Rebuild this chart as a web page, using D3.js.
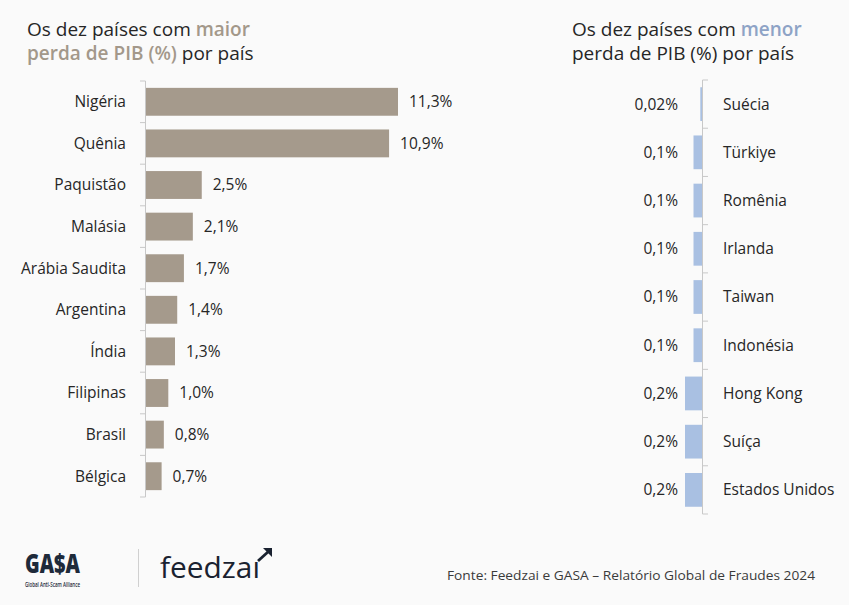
<!DOCTYPE html>
<html><head><meta charset="utf-8">
<script src="https://cdn.jsdelivr.net/npm/d3@7"></script>
<style>
html,body{margin:0;padding:0;background:#fafafa;}
svg{display:block;font-family:"Open Sans", Roboto, sans-serif;}
</style></head>
<body>
<svg id="c" width="849" height="605"></svg>
<script>
const topCountries = ["Nigéria","Quênia","Paquistão","Malásia","Arábia Saudita","Argentina","Índia","Filipinas","Brasil","Bélgica"];
const topValues = [11.3,10.9,2.5,2.1,1.7,1.4,1.3,1.0,0.8,0.7];
const topLabels = ["11,3%","10,9%","2,5%","2,1%","1,7%","1,4%","1,3%","1,0%","0,8%","0,7%"];

const lowCountries = ["Suécia","Türkiye","Romênia","Irlanda","Taiwan","Indonésia","Hong Kong","Suíça","Estados Unidos"];
const lowValues = [0.02,0.1,0.1,0.1,0.1,0.1,0.2,0.2,0.2];
const lowLabels = ["0,02%","0,1%","0,1%","0,1%","0,1%","0,1%","0,2%","0,2%","0,2%"];

const svg = d3.select("#c");
const textCol = "#262626";
const taupe = "#a59a8c";
const taupeTitle = "#a3988a";
const blue = "#a9c0e2";
const blueTitle = "#8ea3c6";
const axisCol = "#c8c8c8";
const fs = 15.5;

// Titles
function title(x, word, col, second) {
  const t = svg.append("text").attr("x", x).attr("y", 35.5).attr("font-size", 19).attr("fill", textCol);
  t.append("tspan").text("Os dez países com ");
  t.append("tspan").attr("fill", col).attr("font-weight", 600).text(word);
  const t2 = svg.append("text").attr("x", x).attr("y", 60).attr("font-size", 19).attr("fill", textCol);
  if (second) {
    t2.append("tspan").attr("fill", col).attr("font-weight", 600).text("perda de PIB (%)");
    t2.append("tspan").text(" por país");
  } else {
    t2.text("perda de PIB (%) por país");
  }
}
title(27, "maior", taupeTitle, true);
title(572, "menor", blueTitle, false);

// Left chart
const yL = d3.scaleBand().domain(topCountries).range([81, 497]).paddingInner(0.33).paddingOuter(0.165);
const xL = d3.scaleLinear().domain([0, 11.3]).range([146, 398]);
const gL = svg.append("g");
const stepL = yL.step(), offL = stepL * 0.33 / 2;
gL.append("line").attr("x1", 145.5).attr("x2", 145.5).attr("y1", yL.range()[0]).attr("y2", yL.range()[1]).attr("stroke", axisCol);
const bL = topCountries.map(d => yL(d) - offL).concat([yL(topCountries[topCountries.length-1]) + yL.bandwidth() + offL]);
gL.selectAll(".tk").data(bL).join("line").attr("x1", 140).attr("x2", 145.5).attr("y1", d => d).attr("y2", d => d).attr("stroke", axisCol);
gL.selectAll("rect").data(topCountries).join("rect")
  .attr("x", xL(0)).attr("y", d => yL(d)).attr("height", yL.bandwidth())
  .attr("width", (d, i) => xL(topValues[i]) - xL(0)).attr("fill", taupe);
gL.selectAll(".cat").data(topCountries).join("text")
  .attr("x", 126).attr("y", d => yL(d) + yL.bandwidth() / 2).attr("dy", "0.35em")
  .attr("text-anchor", "end").attr("font-size", fs).attr("fill", textCol).text(d => d);
gL.selectAll(".val").data(topCountries).join("text")
  .attr("x", (d, i) => xL(topValues[i]) + 11).attr("y", d => yL(d) + yL.bandwidth() / 2).attr("dy", "0.35em")
  .attr("font-size", fs).attr("fill", textCol).text((d, i) => topLabels[i]);

// Right chart
const yR = d3.scaleBand().domain(lowCountries).range([80, 514]).paddingInner(0.3).paddingOuter(0.15);
const xR = d3.scaleLinear().domain([0, 0.2]).range([702, 685]);
const gR = svg.append("g");
const stepR = yR.step(), offR = stepR * 0.3 / 2;
gR.append("line").attr("x1", 702.5).attr("x2", 702.5).attr("y1", yR.range()[0]).attr("y2", yR.range()[1]).attr("stroke", axisCol);
const bR = lowCountries.map(d => yR(d) - offR).concat([yR(lowCountries[lowCountries.length-1]) + yR.bandwidth() + offR]);
gR.selectAll(".tk").data(bR).join("line").attr("x1", 702.5).attr("x2", 708).attr("y1", d => d).attr("y2", d => d).attr("stroke", axisCol);
gR.selectAll("rect").data(lowCountries).join("rect")
  .attr("x", (d, i) => xR(lowValues[i])).attr("y", d => yR(d)).attr("height", yR.bandwidth())
  .attr("width", (d, i) => xR(0) - xR(lowValues[i])).attr("fill", blue);
gR.selectAll(".val").data(lowCountries).join("text")
  .attr("x", 678).attr("y", d => yR(d) + yR.bandwidth() / 2).attr("dy", "0.35em")
  .attr("text-anchor", "end").attr("font-size", fs).attr("fill", textCol).text((d, i) => lowLabels[i]);
gR.selectAll(".cat").data(lowCountries).join("text")
  .attr("x", 723).attr("y", d => yR(d) + yR.bandwidth() / 2).attr("dy", "0.35em")
  .attr("font-size", fs).attr("fill", textCol).text(d => d);

// Footer logos
svg.append("text").attr("x", 25).attr("y", 573).attr("font-size", 26).attr("font-weight", 800)
  .attr("fill", "#1e2a3a").attr("textLength", 55).attr("lengthAdjust", "spacingAndGlyphs").text("GA$A");
svg.append("text").attr("x", 25).attr("y", 587).attr("font-size", 6.5).attr("font-weight", 600)
  .attr("fill", "#1e2a3a").attr("textLength", 55).attr("lengthAdjust", "spacingAndGlyphs").text("Global Anti-Scam Alliance");
svg.append("line").attr("x1", 138.5).attr("x2", 138.5).attr("y1", 549).attr("y2", 587).attr("stroke", "#d0d0d0");
svg.append("text").attr("x", 160).attr("y", 578).attr("font-size", 30).attr("font-weight", 500)
  .attr("fill", "#1a2230").attr("textLength", 100).attr("lengthAdjust", "spacingAndGlyphs").text("feedzaı");
svg.append("path").attr("d", "M258,561 L269,551").attr("stroke", "#1a2230").attr("stroke-width", 2.8).attr("fill", "none");
svg.append("path").attr("d", "M263,548 L272,548 L272,557 Z").attr("fill", "#1a2230");
svg.append("text").attr("x", 447).attr("y", 580).attr("font-size", 13).attr("fill", "#3a3a3a")
  .attr("textLength", 368).attr("lengthAdjust", "spacingAndGlyphs")
  .text("Fonte: Feedzai e GASA – Relatório Global de Fraudes 2024");
</script>
</body></html>
